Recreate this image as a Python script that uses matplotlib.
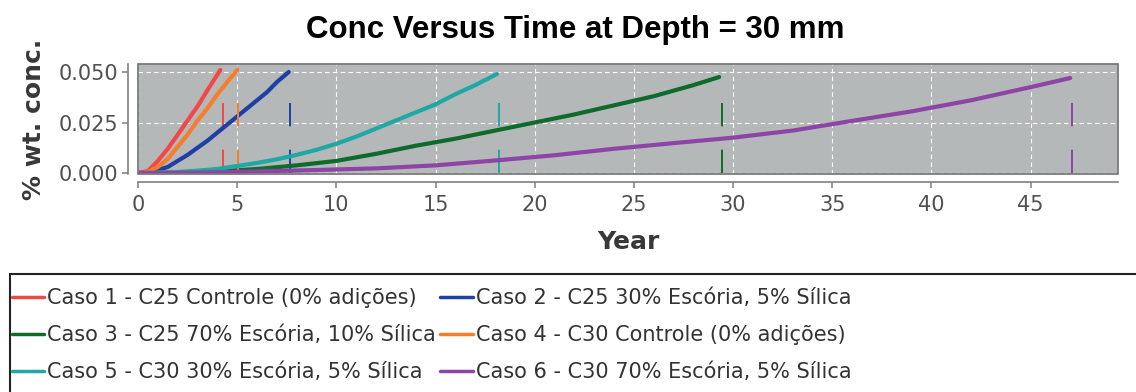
import numpy as np
import matplotlib
matplotlib.use("Agg")
import matplotlib.pyplot as plt
from matplotlib.patches import Rectangle

# Data: (year, % wt. conc.) for each case
labels = [
    "Caso 1 - C25 Controle (0% adições)",
    "Caso 2 - C25 30% Escória, 5% Sílica",
    "Caso 3 - C25 70% Escória, 10% Sílica",
    "Caso 4 - C30 Controle (0% adições)",
    "Caso 5 - C30 30% Escória, 5% Sílica",
    "Caso 6 - C30 70% Escória, 5% Sílica",
]
colors = ["#f04848", "#1f3fa6", "#0e6b2c", "#f57d2c", "#1fa8a4", "#8e44a6"]

t1 = [0, 0.5, 1, 1.5, 2, 2.5, 3, 3.5, 4.15]
c1 = [0, 0.001, 0.006, 0.012, 0.019, 0.026, 0.033, 0.041, 0.051]

t2 = [0, 0.5, 1, 1.5, 2, 2.5, 3, 3.5, 4, 4.5, 5, 5.5, 6, 6.5, 7, 7.6]
c2 = [0, 0.0003, 0.0015, 0.003, 0.006, 0.009, 0.0125, 0.016, 0.020, 0.024,
      0.028, 0.032, 0.036, 0.040, 0.045, 0.050]

t3 = [0, 2, 4, 6, 8, 10, 12, 14, 16, 18, 20, 22, 24, 26, 28, 29.3]
c3 = [0, 0.0002, 0.0008, 0.002, 0.0038, 0.006, 0.0095, 0.0135, 0.017, 0.021,
      0.025, 0.029, 0.0335, 0.038, 0.0435, 0.0475]

t4 = [0, 0.5, 1, 1.5, 2, 2.5, 3, 3.5, 4, 4.5, 5.0]
c4 = [0, 0.0005, 0.003, 0.007, 0.013, 0.019, 0.026, 0.032, 0.039, 0.045, 0.051]

t5 = [0, 2, 3, 4, 5, 6, 7, 8, 9, 10, 11, 12, 13, 14, 15, 16, 17, 18.1]
c5 = [0, 0.0005, 0.0012, 0.002, 0.0035, 0.005, 0.0068, 0.009, 0.0115, 0.0145,
      0.018, 0.022, 0.026, 0.030, 0.034, 0.039, 0.0435, 0.049]

t6 = [0, 3, 6, 9, 12, 15, 18, 21, 24, 27, 30, 33, 36, 39, 42, 45, 47]
c6 = [0, 0.0002, 0.0008, 0.0015, 0.0023, 0.0038, 0.0062, 0.0088, 0.012,
      0.0148, 0.0175, 0.021, 0.0258, 0.0305, 0.036, 0.0425, 0.047]

times = [t1, t2, t3, t4, t5, t6]
concs = [c1, c2, c3, c4, c5, c6]

# end-of-service markers (years)
marker_years = [4.26, 7.65, 29.45, 5.06, 18.2, 47.1]
marker_top = 0.035

fig = plt.figure(figsize=(11.36, 3.92), dpi=100)
ax = fig.add_axes([0.1215, 0.556, 0.8625, 0.281])
ax.set_facecolor("#b5b8b8")

for t, c, col, lab, my in zip(times, concs, colors, labels, marker_years):
    ax.plot(t, c, color=col, lw=3.0, label=lab, solid_capstyle="round")
    ax.plot([my, my], [0, marker_top], color=col, lw=1.4,
            linestyle=(0, (12, 12)))

ax.set_xlim(0, 49.4)
ax.set_ylim(-0.0005, 0.054)
ax.set_xticks(np.arange(0, 50, 5))
ax.set_yticks([0.0, 0.025, 0.05])
ax.set_yticklabels(["0.000", "0.025", "0.050"])
ax.grid(True, color="white", linestyle=(0, (4, 3)), lw=0.8)
ax.set_axisbelow(True)

for side in ["top", "right"]:
    ax.spines[side].set_visible(False)
ax.spines["left"].set_position(("outward", 7))
ax.spines["bottom"].set_position(("outward", 6))
for side in ["left", "bottom"]:
    ax.spines[side].set_color("#808080")
    ax.spines[side].set_linewidth(1.2)
ax.add_patch(Rectangle((0, 0), 1, 1, transform=ax.transAxes, fill=False,
                       edgecolor="#7a7a7a", lw=1.3, clip_on=False, zorder=5))
ax.tick_params(colors="#808080", labelcolor="#505050", labelsize=15,
               length=4, width=1.1)
ax.tick_params(axis="x", pad=5)

ax.set_xlabel("Year", fontsize=18, fontweight="bold", color="#383838",
              labelpad=11)
ax.set_ylabel("% wt. conc.", fontsize=18, fontweight="bold", color="#383838",
              labelpad=9)
fig.text(0.506, 1 - 30 / 392, "Conc Versus Time at Depth = 30 mm",
         fontsize=22.5, fontweight="bold", family="Liberation Sans",
         ha="center", va="center")

# legend box across the bottom
fig.add_artist(Rectangle((10 / 1136, -0.01), 1.0, 122 / 392,
                         transform=fig.transFigure, fill=False,
                         edgecolor="#222222", lw=1.5))
handles, labs = ax.get_legend_handles_labels()
order = [0, 2, 4, 1, 3, 5]
leg = fig.legend([handles[i] for i in order], [labs[i] for i in order],
                 ncol=2, loc="upper left",
                 bbox_to_anchor=(12 / 1136, 1 - 288 / 392),
                 frameon=False, fontsize=15, handlelength=1.55,
                 handletextpad=0.15, columnspacing=0.2, labelspacing=0.82,
                 borderaxespad=0, borderpad=0)
for txt in leg.get_texts():
    txt.set_color("#333333")
for ln in leg.get_lines():
    ln.set_linewidth(2.5)

fig.savefig("out.png", dpi=100)
